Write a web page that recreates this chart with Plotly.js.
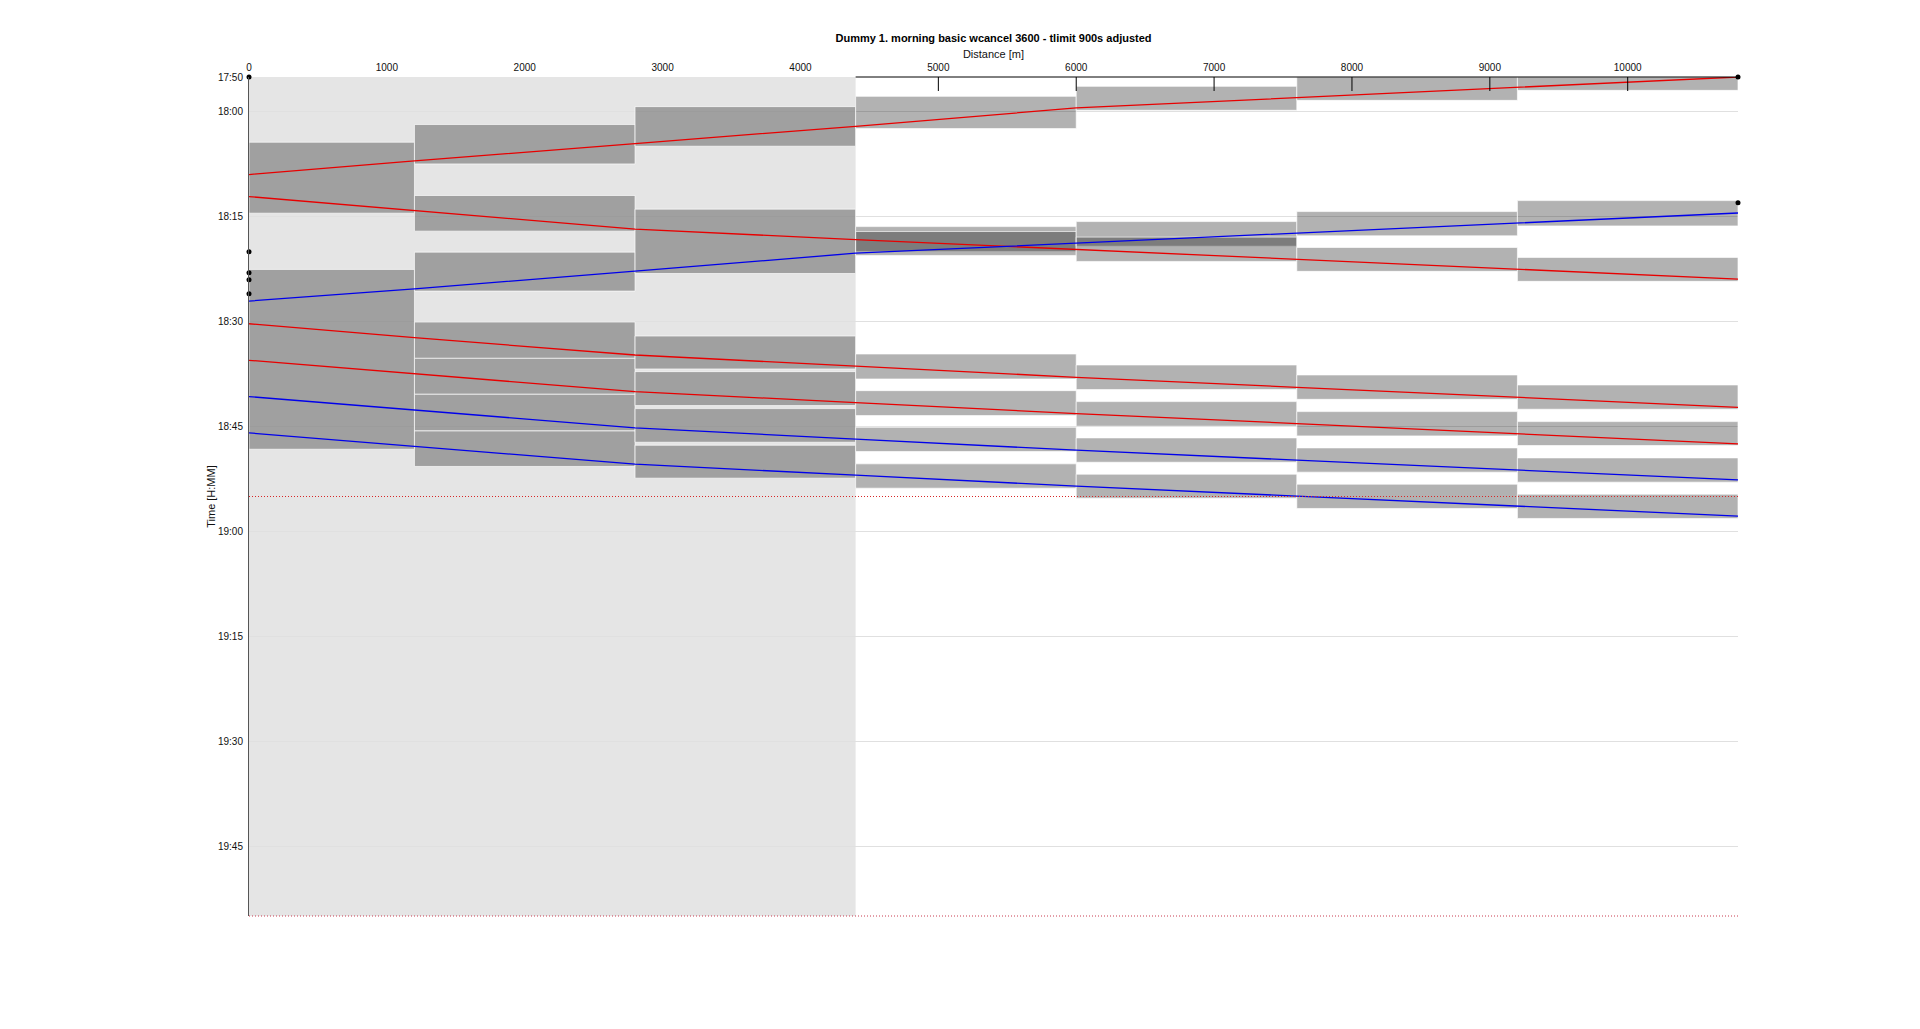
<!DOCTYPE html>
<html>
<head>
<meta charset="utf-8">
<script src="https://cdn.plot.ly/plotly-3.0.1.min.js"></script>
<style>
  html, body { margin: 0; padding: 0; background: #fff; }
  #chart { width: 1920px; height: 1029px; }
</style>
</head>
<body>
<div id="chart"></div>
<script>
// ---------------- DATA ----------------
const chartTitle = 'Dummy 1. morning basic wcancel 3600 - tlimit 900s adjusted';
const xTitle = 'Distance [m]';
const yTitle = 'Time [H:MM]';

// block section boundaries along the line (m)
const blockBounds = [0, 1200, 2800, 4400, 6000, 7600, 9200, 10800];
// shaded zone (m)
const zoneStart = 0;
const zoneEnd = 4400;

const xTickVals = [0, 1000, 2000, 3000, 4000, 5000, 6000, 7000, 8000, 9000, 10000];
const xTickText = ['0', '1000', '2000', '3000', '4000', '5000', '6000', '7000', '8000', '9000', '10000'];
// times are minutes after 17:55
const timeRange = [0, 120];
const yTickVals = [0, 5, 20, 35, 50, 65, 80, 95, 110];
const yTickText = ['17:50', '18:00', '18:15', '18:30', '18:45', '19:00', '19:15', '19:30', '19:45'];
const limitTimes = [60, 120];

// train paths: time at each block boundary (same order as blockBounds)
const trainA = [13.95, 12.0, 9.52, 7.05, 4.43, 2.96, 1.53, 0.0];
const trainB = [17.1, 19.1, 21.76, 23.25, 24.67, 26.1, 27.5, 28.9];
const trainC = [32.05, 30.3, 27.76, 25.2, 23.76, 22.3, 20.9, 19.45];
const trainD = [35.29, 37.29, 39.76, 41.35, 42.95, 44.38, 45.8, 47.24];
const trainE = [40.52, 42.48, 45.0, 46.57, 48.14, 49.57, 51.05, 52.48];
const trainF = [45.71, 47.67, 50.19, 51.78, 53.38, 54.8, 56.24, 57.62];
const trainG = [50.9, 52.86, 55.38, 56.95, 58.52, 59.95, 61.38, 62.8];

// blocking time boxes per block section: [start, end]
const sec0 = [[9.33, 19.48], [27.52, 53.24]];
const sec1 = [[6.8, 12.43], [16.95, 22.05], [25.05, 30.62], [35.05, 40.24], [40.24, 45.38], [45.38, 50.62], [50.62, 55.7]];
const sec2 = [[4.24, 9.9], [18.9, 28.1], [37.05, 41.76], [42.14, 47.0], [47.43, 52.24], [52.67, 57.38]];
const sec3 = [[2.77, 7.38], [21.4, 24.95], [22.1, 25.52], [39.62, 43.19], [44.86, 48.43], [50.1, 53.57], [55.33, 58.81]];
const sec4 = [[1.34, 4.76], [20.68, 24.2], [22.9, 26.38], [41.19, 44.71], [46.43, 49.95], [51.62, 55.1], [56.81, 60.24]];
const sec5 = [[0, 3.34], [19.25, 22.72], [24.38, 27.8], [42.62, 46.1], [47.86, 51.33], [53.05, 56.52], [58.24, 61.71]];
const sec6 = [[0, 1.91], [17.68, 21.3], [25.8, 29.23], [44.05, 47.52], [49.29, 52.71], [54.48, 57.95], [59.67, 63.14]];

// event markers
const markerDist = [0, 0, 0, 0, 0, 10800, 10800];
const markerTime = [0, 25, 28, 29, 31, 0, 18];

// ---------------- STYLE ----------------
const RED = 'rgb(232,0,0)';
const BLUE = 'rgb(0,0,235)';
const trains = [
  {t: trainA, c: RED}, {t: trainB, c: RED}, {t: trainC, c: BLUE},
  {t: trainD, c: RED}, {t: trainE, c: RED}, {t: trainF, c: BLUE}, {t: trainG, c: BLUE}
];
const sections = [sec0, sec1, sec2, sec3, sec4, sec5, sec6];
const FONT = 'Liberation Sans, Arial, Helvetica, sans-serif';

const traces = [];
trains.forEach(tr => {
  traces.push({
    type: 'scatter', mode: 'lines', x: blockBounds, y: tr.t,
    line: {color: tr.c, width: 1.3}, hoverinfo: 'skip', showlegend: false
  });
});
traces.push({
  type: 'scatter', mode: 'lines',
  x: [blockBounds[0], blockBounds[blockBounds.length - 1]], y: [limitTimes[0], limitTimes[0]],
  line: {color: 'rgb(215,40,40)', width: 1, dash: '1px,2px'}, hoverinfo: 'skip', showlegend: false
});
traces.push({
  type: 'scatter', mode: 'markers', x: markerDist, y: markerTime,
  marker: {color: '#000', size: 5}, cliponaxis: false, hoverinfo: 'skip', showlegend: false
});

const shapes = [];
// shaded zone
shapes.push({
  type: 'rect', layer: 'between', xref: 'x', yref: 'paper',
  x0: zoneStart, x1: zoneEnd, y0: 0, y1: 1,
  fillcolor: '#e5e5e5', line: {width: 0}
});
// blocking boxes
sections.forEach((sec, i) => {
  sec.forEach(b => {
    shapes.push({
      type: 'rect', layer: 'between', xref: 'x', yref: 'y',
      x0: blockBounds[i], x1: blockBounds[i + 1], y0: b[0], y1: b[1],
      fillcolor: 'rgba(0,0,0,0.3)', line: {color: 'rgba(255,255,255,0.65)', width: 1}
    });
  });
});
// top axis line outside the shaded zone
shapes.push({
  type: 'line', layer: 'above', xref: 'x', yref: 'paper',
  x0: zoneEnd, x1: blockBounds[blockBounds.length - 1], y0: 1, y1: 1,
  line: {color: '#000', width: 1}
});
// inside tick marks outside the shaded zone
xTickVals.filter(v => v > zoneEnd).forEach(v => {
  shapes.push({
    type: 'line', layer: 'above', xref: 'x', yref: 'paper',
    ysizemode: 'pixel', yanchor: 1, y0: 0, y1: -14,
    x0: v, x1: v, line: {color: '#000', width: 1}
  });
});
// final time limit (bottom edge)
shapes.push({
  type: 'line', layer: 'above', xref: 'x', yref: 'paper',
  x0: blockBounds[0], x1: blockBounds[blockBounds.length - 1], y0: 0, y1: 0,
  line: {color: 'rgb(200,60,80)', width: 1, dash: '1px,2px'}
});

const layout = {
  width: 1920, height: 1029,
  paper_bgcolor: '#fff', plot_bgcolor: '#fff',
  margin: {l: 249, r: 182, t: 77, b: 113},
  font: {family: FONT, color: '#111', size: 10},
  title: {
    text: chartTitle, font: {family: FONT, size: 11, weight: 'bold', color: '#000'},
    x: 0.5, xref: 'paper', xanchor: 'center',
    y: 1 - 38 / 1029, yref: 'container', yanchor: 'middle'
  },
  xaxis: {
    range: [blockBounds[0], blockBounds[blockBounds.length - 1]],
    side: 'top', tickvals: xTickVals, ticktext: xTickText, ticks: '', showline: false, showgrid: false,
    zeroline: false, tickfont: {size: 10, color: '#111'}, ticklabelstandoff: 3,
    title: {text: xTitle, font: {size: 11, color: '#111'}, standoff: 1}
  },
  yaxis: {
    range: [timeRange[1], timeRange[0]],
    tickvals: yTickVals, ticktext: yTickText, ticks: '',
    showline: true, linecolor: '#555', linewidth: 1,
    showgrid: true, gridcolor: '#e0e0e0', gridwidth: 1, zeroline: false,
    tickfont: {size: 10, color: '#111'}, ticklabelstandoff: 3,
    title: {text: yTitle, font: {size: 11, color: '#111'}, standoff: 0}
  },
  shapes: shapes,
  showlegend: false
};

Plotly.newPlot('chart', traces, layout, {displayModeBar: false, staticPlot: true});
</script>
</body>
</html>
